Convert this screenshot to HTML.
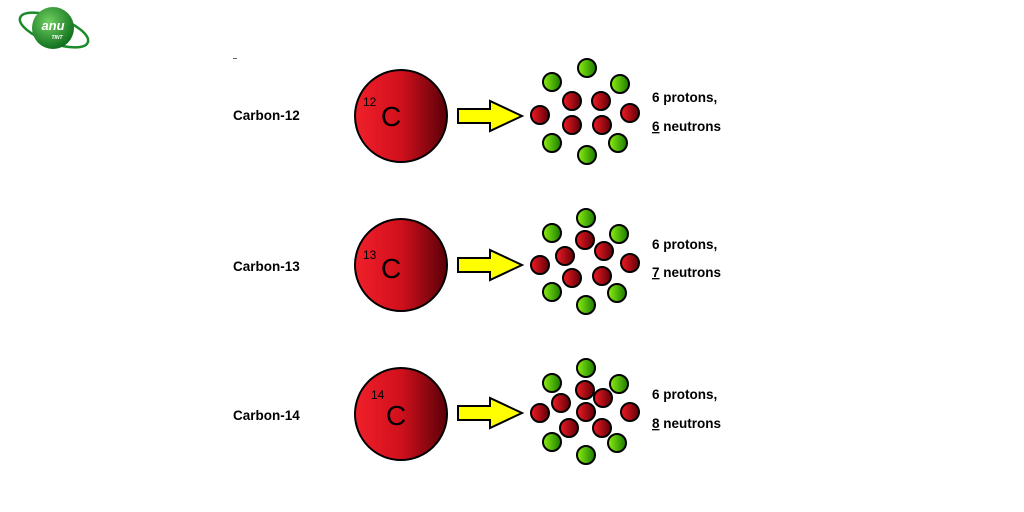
<!DOCTYPE html>
<html><head><style>
body{margin:0;width:1024px;height:512px;background:#fff;overflow:hidden}
svg{display:block}
text{font-family:"Liberation Sans",sans-serif}
</style></head><body>
<svg width="1024" height="512" viewBox="0 0 1024 512">
<defs>
<linearGradient id="big" x1="0" x2="1" y1="0" y2="0"><stop offset="0" stop-color="#f0202a"/><stop offset="0.5" stop-color="#d0101c"/><stop offset="1" stop-color="#5a0008"/></linearGradient>
<linearGradient id="r" x1="0" x2="1"><stop offset="0" stop-color="#f01a22"/><stop offset="1" stop-color="#600008"/></linearGradient>
<linearGradient id="g" x1="0" x2="1"><stop offset="0" stop-color="#8cf010"/><stop offset="1" stop-color="#1a7a00"/></linearGradient>
<radialGradient id="logo" cx="0.4" cy="0.35" r="0.7"><stop offset="0" stop-color="#6fd060"/><stop offset="1" stop-color="#0a6a1a"/></radialGradient>
<g id="arrow"><polygon points="0,-7 32,-7 32,-15 64,0 32,15 32,7 0,7" fill="#ffff00" stroke="#000" stroke-width="2"/></g>
</defs>
<!-- logo -->
<ellipse cx="54" cy="30" rx="36" ry="13" fill="none" stroke="#1a8a2a" stroke-width="2.5" transform="rotate(20 54 30)"/>
<circle cx="53" cy="28" r="21" fill="url(#logo)"/>
<text x="53" y="30" font-size="13" font-weight="bold" font-style="italic" fill="#fff" text-anchor="middle">anu</text>
<text x="57" y="39" font-size="5" font-weight="bold" font-style="italic" fill="#fff" text-anchor="middle">TINT</text>
<rect x="233" y="58" width="4" height="1" fill="#666"/>
<g font-size="13.5" font-weight="bold" fill="#000">
<text x="233" y="120">Carbon-12</text>
<text x="233" y="271">Carbon-13</text>
<text x="233" y="420">Carbon-14</text>
<text x="652" y="102">6 protons,</text>
<text x="652" y="131"><tspan text-decoration="underline">6</tspan> neutrons</text>
<text x="652" y="249">6 protons,</text>
<text x="652" y="277"><tspan text-decoration="underline">7</tspan> neutrons</text>
<text x="652" y="399">6 protons,</text>
<text x="652" y="428"><tspan text-decoration="underline">8</tspan> neutrons</text>
</g>
<g stroke="#000" stroke-width="2" fill="url(#big)">
<circle cx="401" cy="116" r="46"/><circle cx="401" cy="265" r="46"/><circle cx="401" cy="414" r="46"/>
</g>
<g fill="#000">
<text x="363" y="106" font-size="12">12</text><text x="381" y="126" font-size="28">C</text>
<text x="363" y="259" font-size="12">13</text><text x="381" y="278" font-size="28">C</text>
<text x="371" y="399" font-size="12">14</text><text x="386" y="425" font-size="28">C</text>
</g>
<use href="#arrow" x="458" y="116"/><use href="#arrow" x="458" y="265"/><use href="#arrow" x="458" y="413"/>
<g stroke="#000" stroke-width="2">
<g fill="url(#g)">
<circle cx="587" cy="68" r="9"/><circle cx="552" cy="82" r="9"/><circle cx="620" cy="84" r="9"/><circle cx="552" cy="143" r="9"/><circle cx="618" cy="143" r="9"/><circle cx="587" cy="155" r="9"/>
<circle cx="586" cy="218" r="9"/><circle cx="552" cy="233" r="9"/><circle cx="619" cy="234" r="9"/><circle cx="552" cy="292" r="9"/><circle cx="617" cy="293" r="9"/><circle cx="586" cy="305" r="9"/>
<circle cx="586" cy="368" r="9"/><circle cx="552" cy="383" r="9"/><circle cx="619" cy="384" r="9"/><circle cx="552" cy="442" r="9"/><circle cx="617" cy="443" r="9"/><circle cx="586" cy="455" r="9"/>
</g>
<g fill="url(#r)">
<circle cx="572" cy="101" r="9"/><circle cx="601" cy="101" r="9"/><circle cx="540" cy="115" r="9"/><circle cx="630" cy="113" r="9"/><circle cx="572" cy="125" r="9"/><circle cx="602" cy="125" r="9"/>
<circle cx="585" cy="240" r="9"/><circle cx="565" cy="256" r="9"/><circle cx="604" cy="251" r="9"/><circle cx="540" cy="265" r="9"/><circle cx="630" cy="263" r="9"/><circle cx="572" cy="278" r="9"/><circle cx="602" cy="276" r="9"/>
<circle cx="585" cy="390" r="9"/><circle cx="561" cy="403" r="9"/><circle cx="603" cy="398" r="9"/><circle cx="586" cy="412" r="9"/><circle cx="540" cy="413" r="9"/><circle cx="630" cy="412" r="9"/><circle cx="569" cy="428" r="9"/><circle cx="602" cy="428" r="9"/>
</g>
</g>
</svg>
</body></html>
